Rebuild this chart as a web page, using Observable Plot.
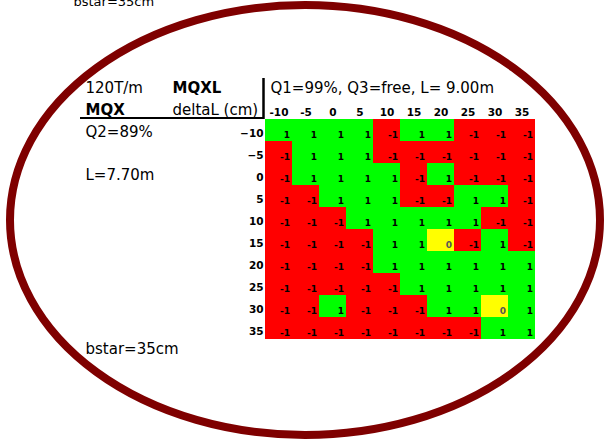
<!DOCTYPE html>
<html>
<head>
<meta charset="utf-8">
<script src="https://cdn.jsdelivr.net/npm/d3@7"></script>
<script src="https://cdn.jsdelivr.net/npm/@observablehq/plot@0.6"></script>
<style>
  html, body { margin: 0; padding: 0; background: #fff; }
  #chart svg { display: block; overflow: visible; }
</style>
</head>
<body>
<div id="chart"></div>
<script>
// MQXL deltaL (cm) along columns, MQX deltaL (cm) along rows
const colLabels = [-10, -5, 0, 5, 10, 15, 20, 25, 30, 35];
const rowLabels = [-10, -5, 0, 5, 10, 15, 20, 25, 30, 35];
// 1 = green, -1 = red, 0 = yellow
const rowM10 = [1, 1, 1, 1, -1, 1, 1, -1, -1, -1];
const rowM5  = [-1, 1, 1, 1, -1, -1, -1, -1, -1, -1];
const row0   = [-1, 1, 1, 1, 1, -1, 1, -1, -1, -1];
const row5   = [-1, -1, 1, 1, 1, -1, -1, 1, 1, -1];
const row10  = [-1, -1, -1, 1, 1, 1, 1, 1, -1, -1];
const row15  = [-1, -1, -1, -1, 1, 1, 0, -1, 1, -1];
const row20  = [-1, -1, -1, -1, 1, 1, 1, 1, 1, 1];
const row25  = [-1, -1, -1, -1, -1, 1, 1, 1, 1, 1];
const row30  = [-1, -1, 1, -1, -1, -1, 1, 1, 0, 1];
const row35  = [-1, -1, -1, -1, -1, -1, -1, -1, 1, 1];
const rowValues = [rowM10, rowM5, row0, row5, row10, row15, row20, row25, row30, row35];

const topLeftTitle = "120T/m";
const colMagnet = "MQXL";
const colTitle = "Q1=99%, Q3=free, L= 9.00m";
const rowMagnet = "MQX";
const deltaLabel = "deltaL (cm)";
const rowQ = "Q2=89%";
const rowL = "L=7.70m";
const bstar = "bstar=35cm";

const cells = [];
rowLabels.forEach((r, i) => colLabels.forEach((c, j) => cells.push({row: r, col: c, v: rowValues[i][j]})));

const font = "'DejaVu Sans', Verdana, sans-serif";

function decor(index, scales, values, dims) {
  const g = d3.create("svg:g");
  g.append("ellipse")
    .attr("cx", 305).attr("cy", 220).attr("rx", 295).attr("ry", 215)
    .attr("fill", "none").attr("stroke", "#7f0000").attr("stroke-width", 8);
  const fx = dims.marginLeft, fy = dims.marginTop;
  g.append("line").attr("x1", 80).attr("x2", fx - 1).attr("y1", fy - 1).attr("y2", fy - 1)
    .attr("stroke", "#000").attr("stroke-width", 2);
  g.append("line").attr("x1", fx - 1.5).attr("x2", fx - 1.5).attr("y1", fy - 41).attr("y2", fy)
    .attr("stroke", "#000").attr("stroke-width", 2.5);
  return g.node();
}

const txt = (s, dx, dy, extra = {}) => Plot.text([s], {
  text: d => d, frameAnchor: "top-left", dx, dy, textAnchor: "start", lineAnchor: "middle",
  fontSize: 15, fill: "#000", ...extra
});

const chart = Plot.plot({
  width: 604,
  height: 440,
  marginLeft: 265,
  marginRight: 69,
  marginTop: 119,
  marginBottom: 101,
  style: {fontFamily: font, background: "#fff", overflow: "visible"},
  x: {type: "band", domain: colLabels, padding: 0},
  y: {type: "band", domain: rowLabels, padding: 0},
  color: {type: "ordinal", domain: [-1, 0, 1], range: ["#ff0000", "#ffff00", "#00ff00"]},
  marks: [
    decor,
    Plot.cell(cells, {x: "col", y: "row", fill: d => d.v, inset: 0}),
    Plot.text(cells, {x: "col", y: "row", text: d => String(d.v), dx: 11, dy: 5,
      textAnchor: "end", fontSize: 9, fontWeight: "bold",
      fill: d => d.v === 0 ? "#555" : "#000"}),
    Plot.axisX({anchor: "top", tickSize: 0, tickPadding: 4, fontSize: 10.5, label: null,
      tickFormat: d => String(d), fill: "#000", fontWeight: "bold"}),
    Plot.axisY({anchor: "left", tickSize: 0, tickPadding: 2, fontSize: 10.5, label: null, dy: 3,
      tickFormat: d => String(d).replace("-", "\u2212"), fill: "#000", fontWeight: "bold"}),
    txt(topLeftTitle, -180, -31),
    txt(colMagnet, -93, -31, {fontWeight: "bold"}),
    txt(colTitle, 5, -31),
    txt(rowMagnet, -180, -9, {fontWeight: "bold"}),
    txt(deltaLabel, -93, -9),
    txt(rowQ, -180, 13),
    txt(rowL, -180, 56),
    txt(bstar, -180, 230),
    txt(bstar, -192, -118, {fontSize: 13})
  ]
});
document.getElementById("chart").appendChild(chart);
</script>
</body>
</html>
